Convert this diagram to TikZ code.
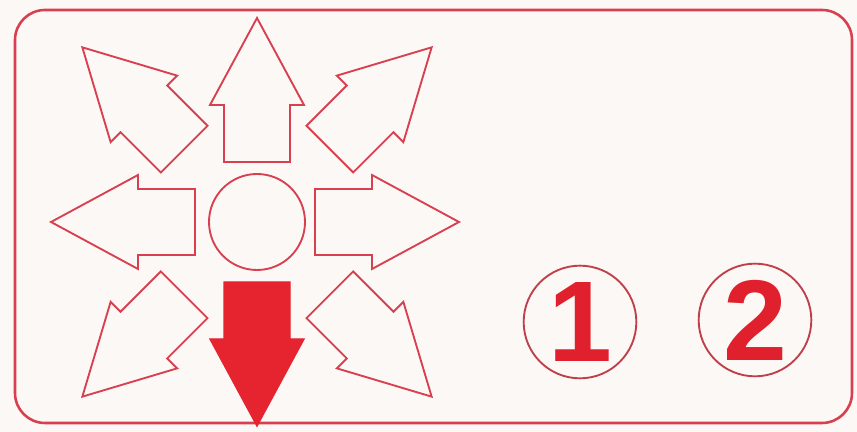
\documentclass[tikz,border=0pt]{standalone}
\usepackage{fontspec}
\setsansfont{Liberation Sans}
\definecolor{paper}{HTML}{FCF8F6}
\definecolor{lineRed}{HTML}{D8404F}
\definecolor{fillRed}{HTML}{E5242F}
\definecolor{ringRed}{HTML}{C0404A}
\definecolor{numRed}{HTML}{E0202C}

\begin{document}
\begin{tikzpicture}[x=0.03cm,y=0.03cm,
  frame/.style={draw=lineRed,line width=2.2pt,rounded corners=0.9cm},
  outline/.style={draw=lineRed,line width=1.6pt,fill=paper,line join=miter},
  solid ray/.style={draw=fillRed,line width=1.2pt,fill=fillRed,line join=miter},
  hubring/.style={circle,draw=lineRed,line width=1.6pt,minimum size=2.88cm,inner sep=0pt},
  numring/.style={circle,draw=ringRed,line width=1.6pt,minimum size=3.38cm,inner sep=0pt,
    text=numRed,font=\sffamily\bfseries\fontsize{98}{98}\selectfont},
  pics/ray/.style={code={
    \path[pic actions] (#1,-33) -- ({#1+57},-33) -- ({#1+57},-47) -- ({#1+144},0)
      -- ({#1+57},47) -- ({#1+57},33) -- (#1,33) -- cycle;}}]
\useasboundingbox (0,0) rectangle (857,432);
\fill[paper] (0,0) rectangle (857,432);
\draw[frame] (15,9) rectangle (852,422);
% compass of eight rays round the hub
\node[hubring] (hub) at (257,210) {};
\pic[outline,rotate=90] at (hub) {ray=60};
\pic[outline,rotate=0] at (hub) {ray=58};
\pic[outline,rotate=180] at (hub) {ray=62};
\pic[solid ray,rotate=-90] at (hub) {ray=60};
\pic[outline,rotate=45] at (hub) {ray=103};
\pic[outline,rotate=135] at (hub) {ray=103};
\pic[outline,rotate=225] at (hub) {ray=103};
\pic[outline,rotate=315] at (hub) {ray=103};
% circled numbers
\node[numring] (one) at (580,110) {1};
\node[numring] (two) at (755,112) {2};
\end{tikzpicture}
\end{document}
